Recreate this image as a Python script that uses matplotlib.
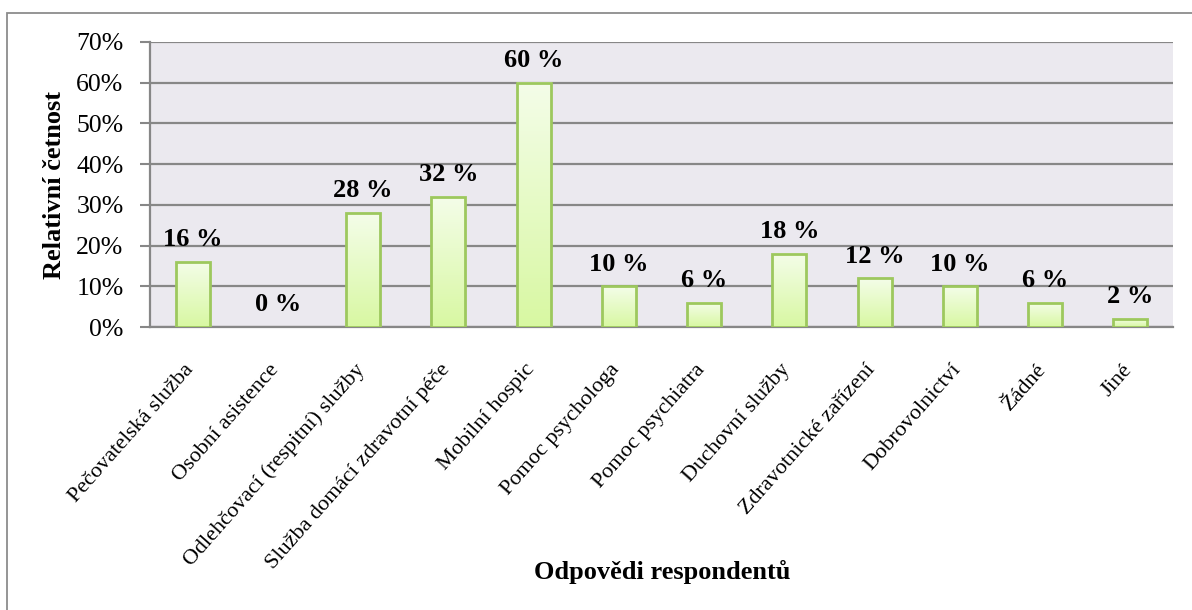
import matplotlib
matplotlib.use("Agg")
import matplotlib.pyplot as plt
import matplotlib.transforms as mtransforms
import numpy as np
from matplotlib.patches import Rectangle
from matplotlib.colors import LinearSegmentedColormap

categories = ["Pečovatelská služba", "Osobní asistence", "Odlehčovací (respitní) služby",
              "Služba domácí zdravotní péče", "Mobilní hospic", "Pomoc psychologa",
              "Pomoc psychiatra", "Duchovní služby", "Zdravotnické zařízení",
              "Dobrovolnictví", "Žádné", "Jiné"]
values = [16, 0, 28, 32, 60, 10, 6, 18, 12, 10, 6, 2]
yticks = [0, 10, 20, 30, 40, 50, 60, 70]
ylabel = "Relativní četnost"
xlabel = "Odpovědi respondentů"

plt.rcParams['font.family'] = ['Liberation Serif', 'DejaVu Serif']

W, H = 1192, 610
fig = plt.figure(figsize=(W / 100, H / 100), dpi=100)

# outer frame
fig.patches.append(Rectangle((7 / W, -0.05), 1.2, 1 - 13 / H + 0.05, transform=fig.transFigure,
                             fill=False, edgecolor="#8c8c8c", linewidth=1.3))

ax = fig.add_axes([150 / W, 1 - 327 / H, (1173 - 150) / W, (327 - 42) / H])
ax.set_facecolor("#ebe9ef")

x = np.arange(len(categories))
bw = 0.40
cmap = LinearSegmentedColormap.from_list("g", ["#d8f8a2", "#f4fde9"])
grad = np.linspace(0, 1, 256).reshape(-1, 1)

ax.set_xlim(-0.5, len(categories) - 0.5)
ax.set_ylim(0, 70)

for xi, v in zip(x, values):
    if v > 0:
        ax.imshow(grad, extent=(xi - bw / 2, xi + bw / 2, 0, v), origin="lower",
                  cmap=cmap, aspect="auto", zorder=3)
        ax.bar(xi, v, width=bw, facecolor="none", edgecolor="#9dc85e", linewidth=2.0, zorder=4)
    ax.text(xi, v + 2.6, f"{v} %", ha="center", va="bottom", fontsize=19,
            fontweight="bold", zorder=5)

ax.set_aspect("auto")
ax.set_yticks(yticks)
ax.set_yticklabels([f"{t}%" for t in yticks], fontsize=18.5)
ax.yaxis.grid(True, color="#878787", linewidth=1.6, zorder=1)
ax.set_axisbelow(True)
ax.tick_params(axis="y", length=7, width=1.5, color="#878787", pad=12)
ax.set_xticks(x)
ax.set_xticklabels(categories, rotation=48.5, ha="right", rotation_mode="anchor", fontsize=16)
ax.tick_params(axis="x", length=0, pad=24)
offset = mtransforms.ScaledTranslation(-9 / 100, 0, fig.dpi_scale_trans)
for lbl in ax.get_xticklabels():
    lbl.set_transform(lbl.get_transform() + offset)

for s in ["top", "right"]:
    ax.spines[s].set_visible(False)
ax.spines["left"].set_color("#878787")
ax.spines["left"].set_linewidth(1.6)
ax.spines["bottom"].set_color("#878787")
ax.spines["bottom"].set_linewidth(1.6)

fig.text(55 / W, 1 - 185 / H, ylabel, rotation=90, ha="center", va="center",
         fontsize=19, fontweight="bold")
fig.text(662 / W, 1 - 572 / H, xlabel, ha="center", va="center",
         fontsize=19, fontweight="bold")

fig.savefig("out.png", dpi=100)
